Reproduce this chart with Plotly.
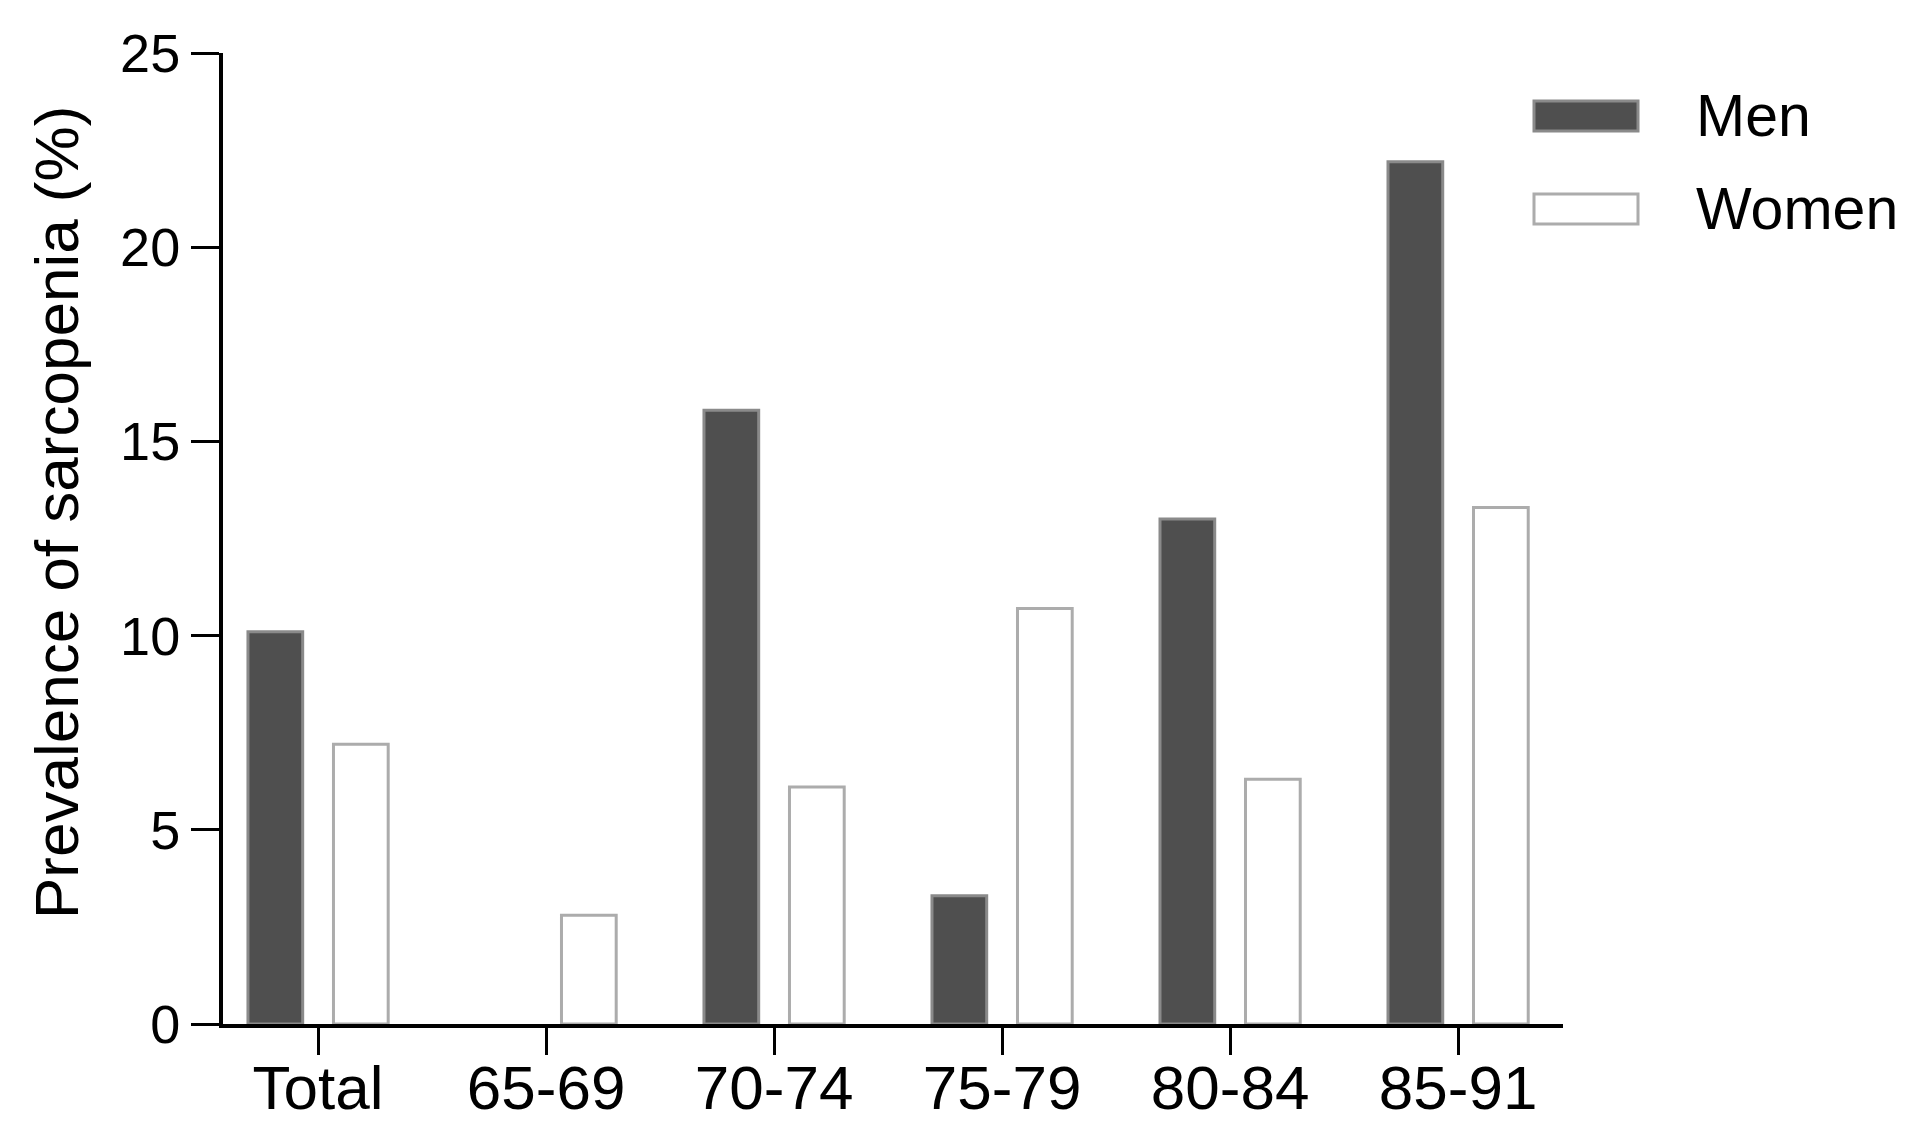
import plotly.graph_objects as go

categories = ["Total", "65-69", "70-74", "75-79", "80-84", "85-91"]
men = [10.1, 0, 15.8, 3.3, 13.0, 22.2]
women = [7.2, 2.8, 6.1, 10.7, 6.3, 13.3]

FONT = "Liberation Sans, Arial, sans-serif"

# no outline on empty bars (the 0 for men 65-69 shows nothing in the original)
men_edge = [0 if v == 0 else 3 for v in men]

fig = go.Figure()
fig.add_trace(go.Bar(name="Men", x=categories, y=men,
                     marker=dict(color="#4f4f4f", line=dict(color="#8a8a8a", width=men_edge))))
fig.add_trace(go.Bar(name="Women", x=categories, y=women,
                     marker=dict(color="white", line=dict(color="#acacac", width=3))))

# plot area on the page: x 223..1563, y 53..1024
PX0, PW, PY0, PH = 223, 1340, 53, 971


def px(x):
    return (x - PX0) / PW


def py(y):
    return 1 - (y - PY0) / PH


# legend drawn by hand so the swatches can be as wide as in the original
legend_items = [("Men", "#4f4f4f", "#8a8a8a", 0), ("Women", "white", "#acacac", 1)]
for name, fill, edge, i in legend_items:
    top = 101 + 93 * i
    fig.add_shape(type="rect", xref="paper", yref="paper",
                  x0=px(1534), x1=px(1638), y0=py(top + 30), y1=py(top),
                  fillcolor=fill, line=dict(color=edge, width=3))
    fig.add_annotation(text=name, xref="paper", yref="paper", showarrow=False,
                       x=px(1694), y=py(top + 15), xanchor="left", yanchor="middle",
                       font=dict(size=59, color="black", family=FONT))

# y axis title, sits a little above the plot centre in the original
fig.add_annotation(text="Prevalence of sarcopenia (%)", xref="paper", yref="paper",
                   showarrow=False, textangle=-90, x=px(56), y=py(513),
                   xanchor="center", yanchor="middle",
                   font=dict(size=62, color="black", family=FONT))

# page body has an 8px margin, so the figure is sized to fit inside the window
fig.update_layout(
    width=1904, height=1113,
    margin=dict(l=215, r=349, t=45, b=97),
    paper_bgcolor="white", plot_bgcolor="white",
    barmode="group", bargap=0.25, bargroupgap=0.36,
    showlegend=False,
    font=dict(family=FONT, color="black"),
)
fig.update_xaxes(range=[-0.417, 5.46], showline=True, linecolor="black", linewidth=4,
                 ticks="outside", ticklen=27, tickwidth=3, tickcolor="black",
                 ticklabelstandoff=-20,
                 tickfont=dict(size=62), showgrid=False, zeroline=False, automargin=False)
fig.update_yaxes(range=[0, 25], tickvals=[0, 5, 10, 15, 20, 25], showline=True,
                 linecolor="black", linewidth=4, ticks="outside", ticklen=28, tickwidth=3,
                 tickcolor="black", tickfont=dict(size=54), showgrid=False, zeroline=False,
                 automargin=False)

fig.write_html("out.html")
